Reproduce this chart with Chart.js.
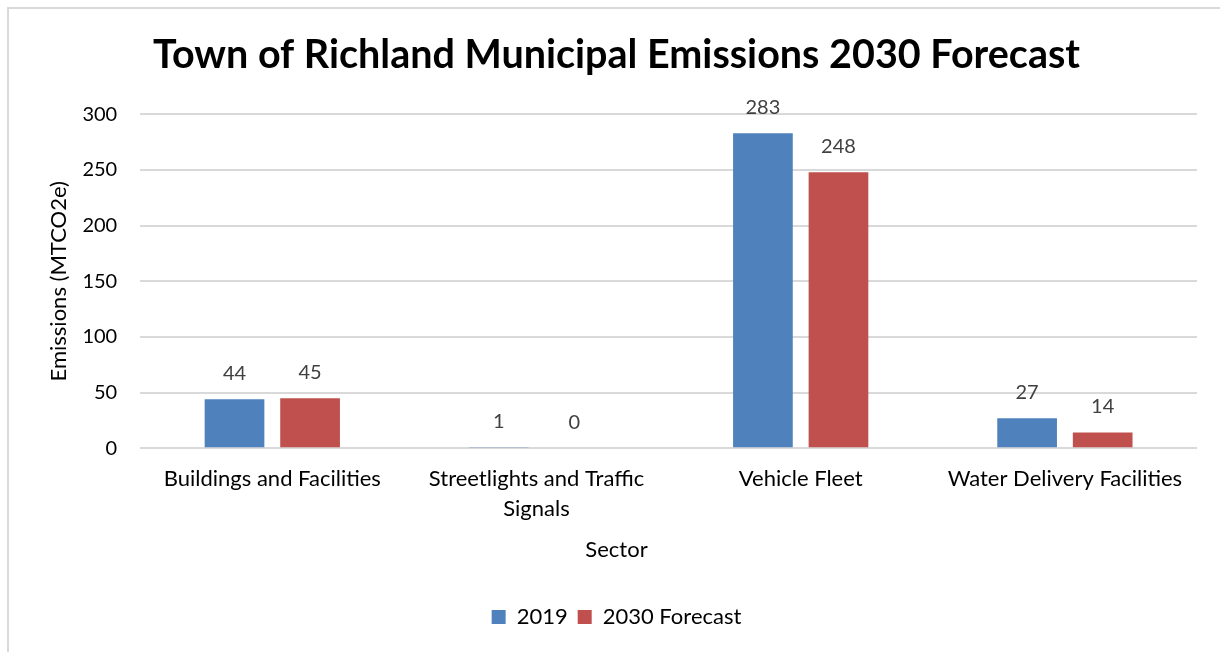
<!DOCTYPE html>
<html>
<head>
<meta charset="utf-8">
<script src="https://cdn.jsdelivr.net/npm/chart.js@4/dist/chart.umd.min.js"></script>
<style>
  html, body { margin: 0; padding: 0; background: #fff; }
  #wrap { position: relative; width: 1220px; height: 652px; }
  #frame { position: absolute; left: 7px; top: 7px; right: 0; bottom: 0;
           border-left: 2px solid #d9d9d9; border-top: 2px solid #d9d9d9; }
  canvas { position: absolute; left: 0; top: 0; }
</style>
</head>
<body>
<div id="wrap">
  <div id="frame"></div>
  <canvas id="emissionsChart" width="1220" height="652"></canvas>
</div>
<script>
'use strict';

const sectors = ['Buildings and Facilities', ['Streetlights and Traffic', 'Signals'], 'Vehicle Fleet', 'Water Delivery Facilities'];
const values2019 = [44, 1, 283, 27];
const values2030 = [45, 0, 248, 14];
const yTicks = [0, 50, 100, 150, 200, 250, 300];

const fontFamily = 'Lato, "Noto Sans", sans-serif';

// value labels above each bar
const barLabels = {
    id: 'barLabels',
    afterDatasetsDraw(chart) {
        const ctx = chart.ctx;
        ctx.save();
        ctx.font = '20px ' + fontFamily;
        ctx.fillStyle = '#404040';
        ctx.textAlign = 'center';
        ctx.textBaseline = 'middle';
        chart.data.datasets.forEach((ds, i) => {
            chart.getDatasetMeta(i).data.forEach((bar, j) => {
                ctx.fillText(String(ds.data[j]), bar.x, bar.y - 26);
            });
        });
        ctx.restore();
    }
};

const ctx = document.getElementById('emissionsChart').getContext('2d');
const chart = new Chart(ctx, {
    type: 'bar',
    data: {
        labels: sectors,
        datasets: [
            { label: '2019', data: values2019, backgroundColor: '#4f81bd' },
            { label: '2030 Forecast', data: values2030, backgroundColor: '#c0504d' }
        ]
    },
    options: {
        responsive: false,
        animation: false,
        layout: { padding: { left: 36, right: 23, top: 32, bottom: 14 } },
        categoryPercentage: 0.572,
        barPercentage: 0.79,
        plugins: {
            title: {
                display: true,
                text: 'Town of Richland Municipal Emissions 2030 Forecast',
                color: '#000',
                font: { family: fontFamily, size: 39.5, weight: 'bold' },
                padding: { top: 0, bottom: 35 }
            },
            // x axis title, centred on the whole chart like the original
            subtitle: {
                display: true,
                position: 'bottom',
                weight: 500,
                text: 'Sector',
                color: '#000',
                font: { family: fontFamily, size: 22, weight: 'normal' },
                padding: { top: 5, bottom: 33 }
            },
            legend: {
                position: 'bottom',
                labels: {
                    color: '#000',
                    font: { family: fontFamily, size: 22 },
                    boxWidth: 14,
                    boxHeight: 14,
                    padding: 10
                }
            },
            tooltip: { enabled: false }
        },
        scales: {
            x: {
                grid: { display: false },
                border: { display: false },
                ticks: {
                    color: '#000',
                    font: { family: fontFamily, size: 22, lineHeight: 1.35 },
                    maxRotation: 0,
                    autoSkip: false,
                    padding: 8
                }
            },
            y: {
                min: 0,
                max: 300,
                afterBuildTicks(axis) { axis.ticks = yTicks.map(v => ({ value: v })); },
                grid: { color: '#d9d9d9', lineWidth: 2, drawTicks: false },
                border: { display: false },
                ticks: {
                    color: '#000',
                    font: { family: fontFamily, size: 20 },
                    padding: 23
                },
                title: {
                    display: true,
                    text: 'Emissions (MTCO2e)',
                    color: '#000',
                    font: { family: fontFamily, size: 22 },
                    padding: { top: 10, bottom: -13 }
                }
            }
        }
    },
    plugins: [barLabels]
});
</script>
</body>
</html>
